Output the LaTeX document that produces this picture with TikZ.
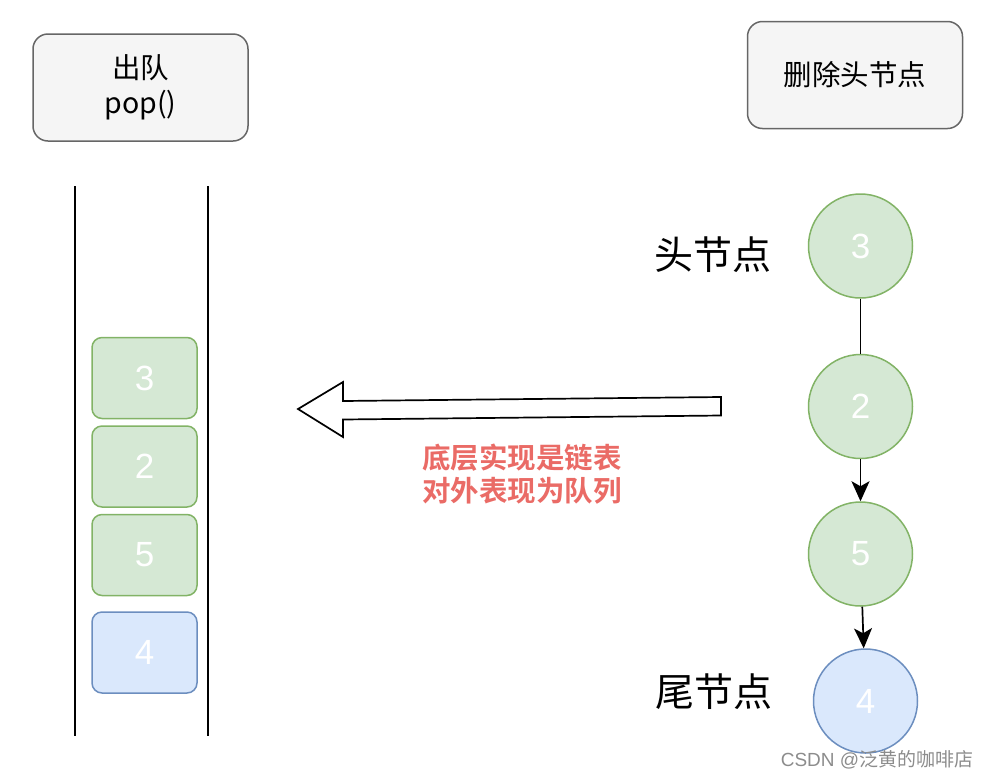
\documentclass[tikz,border=0pt]{standalone}
\usepackage{fontspec}
\setmainfont{Liberation Sans}
\newfontfamily\cjk[BoldFont={Noto Sans CJK SC Bold}]{Noto Sans CJK SC}
\usetikzlibrary{positioning, arrows.meta}
\definecolor{boxfill}{HTML}{F5F5F5}
\definecolor{boxline}{HTML}{666666}
\definecolor{greenfill}{HTML}{D5E8D4}
\definecolor{greenline}{HTML}{82B366}
\definecolor{bluefill}{HTML}{DAE8FC}
\definecolor{blueline}{HTML}{6C8EBF}
\definecolor{notered}{HTML}{EA6B66}
\tikzset{
    title/.style={ % the two grey boxes on top
        draw=boxline, fill=boxfill, line width=1.5pt,
        rounded corners=15pt,
        minimum width=215pt, minimum height=107pt,
        align=center,
        font=\cjk\fontsize{28.5}{35}\selectfont
    },
    item/.style={ % one element in the queue
        line width=1.5pt, rounded corners=10pt,
        minimum width=105pt, minimum height=81pt,
        text=white, font=\fontsize{35}{40}\selectfont
    },
    listnode/.style={ % one element in the linked list
        circle, line width=1.5pt,
        minimum size=104pt, inner sep=0pt,
        text=white, font=\fontsize{35}{40}\selectfont
    },
    green/.style={fill=greenfill, draw=greenline},
    blue/.style={fill=bluefill, draw=blueline},
    link/.style={line width=1.7pt},
    tip/.style={-{Stealth[length=20pt, width=18pt, inset=5pt]}},
}
\begin{document}
\begin{tikzpicture}[x=1pt, y=-1pt, node distance=6pt]
    \useasboundingbox (0,0) rectangle (988,780);

    % titles
    \node[title] (pop)    at (140.5,87.5) {出队\\pop()};
    \node[title] (delete) at (855,75)     {删除头节点};

    % queue
    \draw[link] (75,186) coordinate (ql1) -- (75,736) coordinate (ql2);
    \draw[link] (208,186) coordinate (qr1) -- (208,736) coordinate (qr2);
    \node[item, green] (q3) at (144.5,378) {3};
    \node[item, green, below=of q3] (q2) {2};
    \node[item, green, below=of q2] (q5) {5};
    \node[item, blue, below=15pt of q5] (q4) {4};

    % linked list
    \node[listnode, green] (n3) at (860.5,246) {3};
    \node[listnode, green] (n2) at (860.5,406.5) {2};
    \node[listnode, green] (n5) at (860.5,554) {5};
    \node[listnode, blue]  (n4) at (865.5,701) {4};
    \node[font=\cjk\fontsize{39}{44}\selectfont] (head) at (713,255) {头节点};
    \node[font=\cjk\fontsize{39}{44}\selectfont] (tail) at (714,692) {尾节点};

    \draw[link] (n3) -- (n2);
    \draw[link, tip] (n2) -- (n5);
    \draw[link, tip] (n5) -- (n4);

    % big arrow
    \draw[line width=1.7pt, fill=white, line join=miter]
        (298,409) -- (343,382) -- (343,401) -- (721,397)
        -- (721,415.5) -- (343,419.5) -- (343,437) -- cycle;
    \node[text=notered, align=center, font=\cjk\bfseries\fontsize{28.5}{33}\selectfont]
        (note) at (522,474.5) {底层实现是链表\\对外表现为队列};

    \node[text=black!45, font=\fontsize{19}{22}\selectfont] (mark) at (877,760)
        {CSDN @{\cjk 泛黄的咖啡店}};
\end{tikzpicture}
\end{document}
